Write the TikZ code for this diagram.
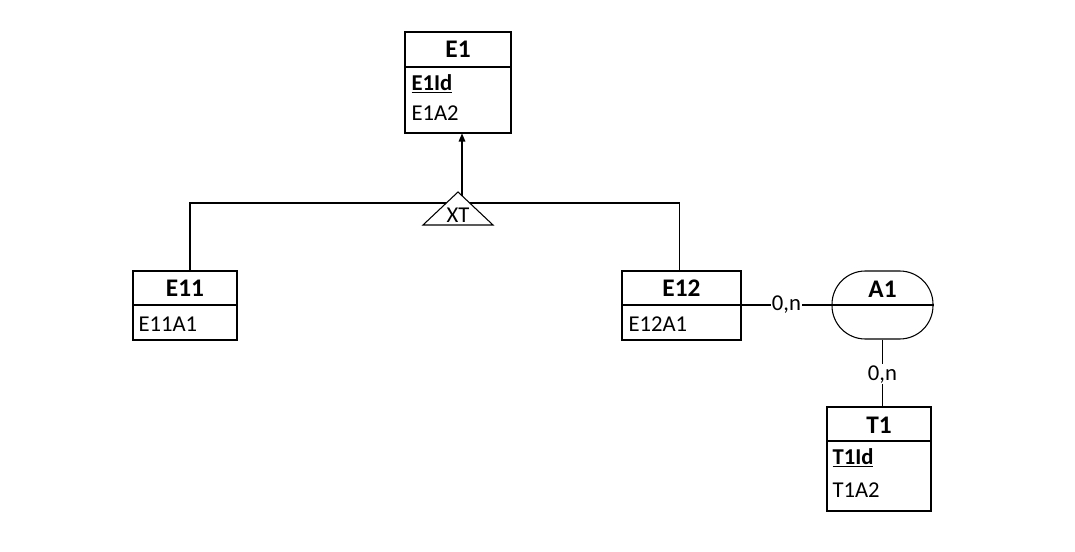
\documentclass[tikz,border=0pt]{standalone}
\usepackage{fontspec}
\setmainfont{Carlito}
\usetikzlibrary{arrows.meta}

\begin{document}
\begin{tikzpicture}[
                x=0.75pt,y=-0.75pt,
                line width=0.8pt,
                entity/.style={draw,inner sep=0pt},
                title/.style={font=\fontsize{19}{22}\selectfont\bfseries,inner sep=0pt},
                attr/.style={font=\fontsize{17}{20}\selectfont,anchor=west,inner sep=0pt},
                card/.style={fill=white,font=\fontsize{17}{20}\selectfont,inner sep=1pt}] %

\useasboundingbox (0,0) rectangle (1075,552);

                    % E1
                    \node[entity,minimum width=79.5pt,minimum height=75.75pt] (E1) at (458,82.5) {};
                    \node[title] (E1name) at (458,49) {E1};
                    \draw (E1.west |- 0,67) -- (E1.east |- 0,67);
                    \node[attr] (E1Id) at (411,84) {\underline{\bfseries E1Id}};
                    \node[attr] (E1A2) at (411,113) {E1A2};

                    % E11
                    \node[entity,minimum width=78pt,minimum height=51.75pt] (E11) at (185,305.5) {};
                    \node[title] (E11name) at (185,288) {E11};
                    \draw (E11.west |- 0,305) -- (E11.east |- 0,305);
                    \node[attr] (E11A1) at (138,324) {E11A1};

                    % E12
                    \node[entity,minimum width=89.25pt,minimum height=51.75pt] (E12) at (681.5,305.5) {};
                    \node[title] (E12name) at (681.5,288) {E12};
                    \draw (E12.west |- 0,305) -- (E12.east |- 0,305);
                    \node[attr] (E12A1) at (628,324) {E12A1};

 % XT
                    \coordinate (XTtop) at (458,192);
                    \draw ([xshift=3.75pt]E11.north) |- (XTtop |- 0,203) -| ([xshift=-1.5pt]E12.north);
                    \draw[fill=white] (423,225) -- (XTtop) -- (493,225) -- cycle;
                    \node[font=\fontsize{17}{20}\selectfont,inner sep=0pt] (XT) at (458,215) {XT};
                    \draw[-{Triangle[width=5pt,length=6pt]}] ([xshift=3pt]XTtop |- 0,196) -- ([xshift=3pt]E1.south);

 % A1
                    \node[draw,rounded corners=25pt,minimum width=75.75pt,minimum height=51pt,inner sep=0pt] (A1) at (882.5,305) {};
                    \node[title] (A1name) at (882.5,289) {A1};
                    \draw (A1.west) -- (A1.east);

 % T1
                    \node[entity,minimum width=78pt,minimum height=78pt] (T1) at (879,459) {};
                    \node[title] (T1name) at (879,425) {T1};
                    \draw (T1.west |- 0,441) -- (T1.east |- 0,441);
                    \node[attr] (T1Id) at (832,458) {\underline{\bfseries T1Id}};
                    \node[attr] (T1A2) at (832,490) {T1A2};

                    \draw (E12.east |- A1.west) -- node[card] {0,n} (A1.west);
                    \draw (A1.south) -- node[card,pos=0.52] {0,n} (A1.south |- T1.north);

                    \end{tikzpicture}
\end{document}
